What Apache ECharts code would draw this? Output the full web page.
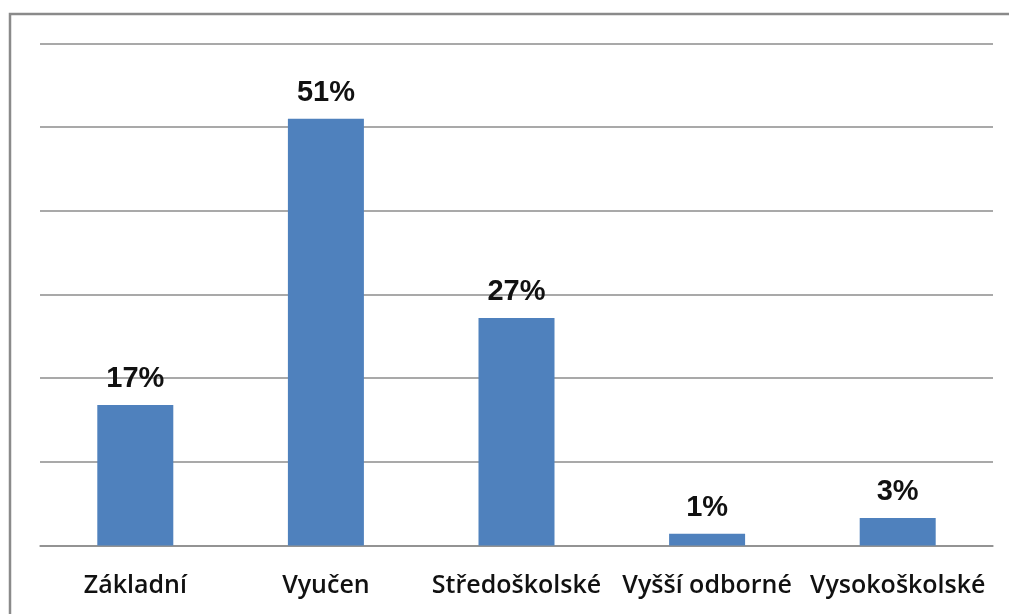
<!DOCTYPE html>
<html>
<head>
<meta charset="utf-8">
<script src="https://cdn.jsdelivr.net/npm/echarts@6/dist/echarts.min.js"></script>
<style>
  html, body { margin: 0; padding: 0; background: #fff; }
  #chart { width: 1009px; height: 614px; }
</style>
</head>
<body>
<div id="chart"></div>
<script>
// vzdělání
const categories = ['Základní', 'Vyučen', 'Středoškolské', 'Vyšší odborné', 'Vysokoškolské']
const values = [16.8, 51.0, 27.2, 1.4, 3.3]

const chart = echarts.init(document.getElementById('chart'))

chart.setOption({
  animation: false,
  grid: { left: 40, right: 16, top: 43.5, bottom: 68.5 },
  graphic: [{
    type: 'rect',
    shape: { x: 10, y: 14, width: 1100, height: 700 },
    style: { fill: 'none', stroke: '#8a8a8a', lineWidth: 2.5 },
    silent: true
  }],
  xAxis: {
    type: 'category',
    data: categories,
    axisLine: { lineStyle: { color: '#8c8c8c', width: 1.5 } },
    axisTick: { length: 10, lineStyle: { color: '#8c8c8c', width: 1.5 } },
    axisLabel: {
      color: '#111',
      fontFamily: 'Open Sans',
      fontWeight: 600,
      fontSize: 25,
      margin: 28,
      interval: 0
    }
  },
  yAxis: {
    type: 'value',
    min: 0,
    max: 60,
    interval: 10,
    axisLabel: { show: false },
    axisLine: { show: false },
    axisTick: { show: false },
    splitLine: { lineStyle: { color: '#8c8c8c', width: 1.5 } }
  },
  series: [{
    type: 'bar',
    data: values,
    barWidth: 76,
    itemStyle: { color: '#4f81bd' },
    label: {
      show: true,
      position: 'top',
      distance: 11,
      formatter: p => Math.round(p.value) + '%',
      fontFamily: 'Liberation Sans',
      fontWeight: 'bold',
      fontSize: 29,
      color: '#111'
    }
  }]
})
</script>
</body>
</html>
